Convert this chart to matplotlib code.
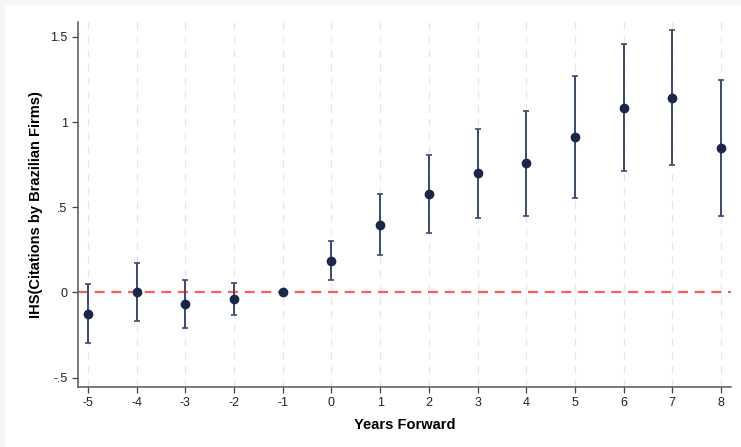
"""Event-study coefficients: citations by Brazilian firms, years relative to event."""

import matplotlib
matplotlib.use("Agg")
import matplotlib.pyplot as plt
from matplotlib.patches import Rectangle

years = [-5, -4, -3, -2, -1, 0, 1, 2, 3, 4, 5, 6, 7, 8]
coef = [-0.124, 0.0, -0.069, -0.038, 0.0, 0.187, 0.398, 0.577,
        0.700, 0.759, 0.915, 1.085, 1.140, 0.849]
ci_low = [-0.295, -0.167, -0.210, -0.134, 0.0, 0.072, 0.218, 0.348,
          0.437, 0.451, 0.555, 0.715, 0.747, 0.451]
ci_high = [0.048, 0.171, 0.072, 0.058, 0.0, 0.304, 0.578, 0.807,
           0.962, 1.066, 1.273, 1.457, 1.540, 1.248]
yticks = [-0.5, 0, 0.5, 1, 1.5]
ytick_labels = ["-.5", "0", ".5", "1", "1.5"]

plt.rcParams["font.family"] = ["Liberation Sans", "DejaVu Sans"]
plt.rcParams["axes.unicode_minus"] = False

fig = plt.figure(figsize=(7.41, 4.47), dpi=100, facecolor="#f4f6f9")
# white panel behind the plot
fig.patches.append(Rectangle((5 / 741, 0), 1, 1 - 5 / 447,
                             transform=fig.transFigure, facecolor="white",
                             edgecolor="none", zorder=-10))
ax = fig.add_axes([78 / 741, 60 / 447, (731 - 78) / 741, (387 - 22) / 447])
ax.set_zorder(1)
ax.set_facecolor("white")

# confidence intervals (reference year -1 has none)
idx = [i for i, y in enumerate(years) if ci_high[i] != ci_low[i]]
xs = [years[i] for i in idx]
ax.errorbar(xs, [coef[i] for i in idx],
            yerr=[[coef[i] - ci_low[i] for i in idx],
                  [ci_high[i] - coef[i] for i in idx]],
            fmt="none", ecolor="#3b4a6b", elinewidth=1.4, capsize=2.3,
            capthick=1.2, zorder=3)
ax.plot(years, coef, "o", color="#1a2747", markersize=6, zorder=4)

ax.axhline(0, color="#ff5c5c", linestyle=(0, (4.5, 3)), linewidth=1.6,
           zorder=2)
for x in years:
    ax.axvline(x, color="#e6e6e6", linestyle=(0, (6, 5)), linewidth=0.9,
               zorder=1)

ax.set_xlim(-5.205, 8.205)
ax.set_ylim(-0.555, 1.588)
ax.set_xticks(years)
ax.set_yticks(yticks)
ax.set_yticklabels(ytick_labels)
ax.tick_params(axis="both", labelsize=9, color="#444444", length=4,
               width=0.9, labelcolor="#222222")

for side in ("top", "right"):
    ax.spines[side].set_visible(False)
for side in ("left", "bottom"):
    ax.spines[side].set_color("#555555")
    ax.spines[side].set_linewidth(1.1)

ax.set_xlabel("Years Forward", fontsize=10.5, fontweight="bold", labelpad=6)
ax.set_ylabel("IHS(Citations by Brazilian Firms)", fontsize=10.5,
              fontweight="bold", labelpad=5)

fig.savefig("out.png", dpi=100, facecolor=fig.get_facecolor())
